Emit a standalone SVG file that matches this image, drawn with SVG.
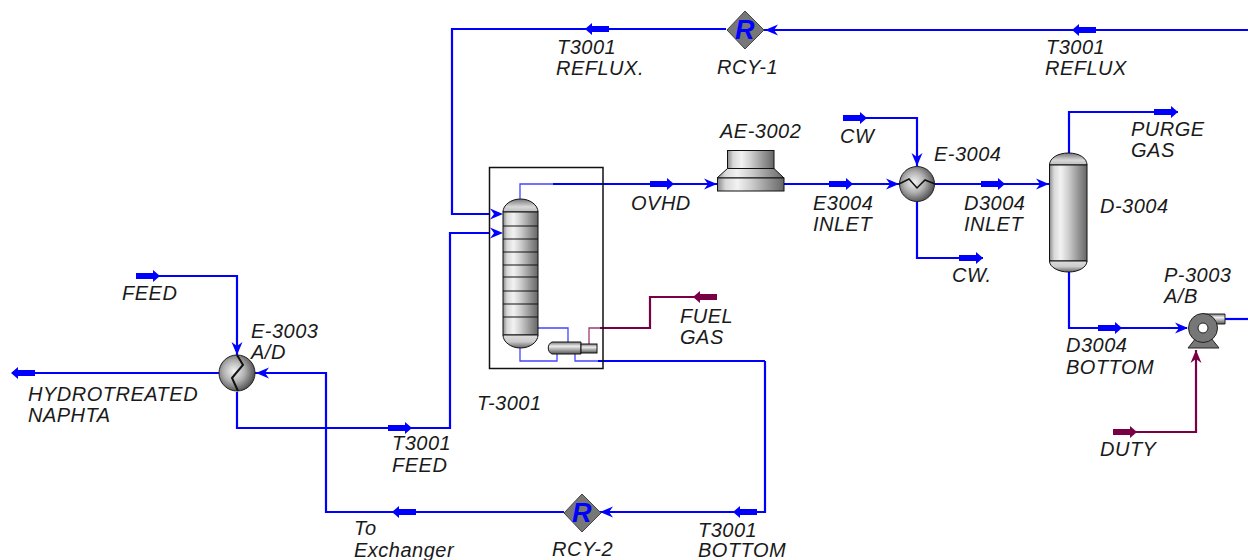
<svg xmlns="http://www.w3.org/2000/svg" xmlns:xlink="http://www.w3.org/1999/xlink" width="1248" height="560" viewBox="0 0 1248 560">
<style>
.s{fill:none;stroke:#0000ff;stroke-width:2.200}
.t{fill:none;stroke:#4444ff;stroke-width:1.300}
.e{fill:none;stroke:#7a0045;stroke-width:2.200}
.et{fill:none;stroke:#a03a70;stroke-width:1.300}
.o{stroke:#111;stroke-width:1}
.l{stroke:#111;stroke-width:1;fill:none}
text{font-family:"Liberation Sans",Arial,sans-serif;font-style:italic;font-size:20px;letter-spacing:.5px;fill:#1a1a1a}
.R{font-size:27px;font-weight:bold;fill:#0000ff;letter-spacing:0}
</style>
<defs>
<linearGradient id="metal" x1="0" x2="1" y1="0" y2="0">
<stop offset="0" stop-color="#8a8a8a"/><stop offset=".12" stop-color="#d8d8d8"/><stop offset=".3" stop-color="#f2f2f2"/><stop offset=".5" stop-color="#cfcfcf"/><stop offset=".75" stop-color="#999"/><stop offset="1" stop-color="#666"/>
</linearGradient>
<linearGradient id="dome" x1="0" x2="0" y1="0" y2="1">
<stop offset="0" stop-color="#777"/><stop offset=".6" stop-color="#d8d8d8"/><stop offset="1" stop-color="#bbb"/>
</linearGradient>
<linearGradient id="domeB" x1="0" x2="0" y1="0" y2="1">
<stop offset="0" stop-color="#ddd"/><stop offset=".5" stop-color="#ccc"/><stop offset="1" stop-color="#666"/>
</linearGradient>
<linearGradient id="horiz" x1="0" x2="0" y1="0" y2="1">
<stop offset="0" stop-color="#777"/><stop offset=".35" stop-color="#eee"/><stop offset="1" stop-color="#555"/>
</linearGradient>
<radialGradient id="ball" cx=".42" cy=".45" r=".6">
<stop offset="0" stop-color="#f4f4f4"/><stop offset=".5" stop-color="#b0b0b0"/><stop offset="1" stop-color="#4a4a4a"/>
</radialGradient>
<g id="flagB"><path d="M-24,-3H-7V-6L0,0L-7,6V3H-24Z" fill="#0000ff"/></g>
<g id="flagE"><path d="M-24,-3H-7V-6L0,0L-7,6V3H-24Z" fill="#7a0045"/></g>
<path id="head" d="M-13,-5.500L0,0L-13,5.500L-9,0Z" fill="#0000ff"/>
<path id="headE" d="M-13,-5.500L0,0L-13,5.500L-9,0Z" fill="#7a0045"/>
</defs>

<g id="connectors">
<path class="s" d="M1248,30H764"/>
<path class="s" d="M726,29H452V214H490"/>
<path class="s" d="M237,392V428H450V233H490"/>
<path class="s" d="M136,276H237V355"/>
<path class="s" d="M219,373H12"/>
<path class="s" d="M765,361V512H600"/>
<path class="s" d="M564,512H326V373H255"/>
<path class="s" d="M553,184H717"/>
<path class="s" d="M784,184H899"/>
<path class="s" d="M843,118H917V166"/>
<path class="s" d="M935,184H1049"/>
<path class="s" d="M917,202V258H983"/>
<path class="s" d="M1069,153V112H1178"/>
<path class="s" d="M1069,272V328H1187"/>
<path class="s" d="M1225,319H1248"/>
<path class="s" d="M598,361H765"/>
<path class="t" d="M520,199V184H553"/>
<path class="t" d="M538,328H568V342"/>
<path class="t" d="M520,347V361H557V354"/>
<path class="t" d="M575,354V361H598"/>
<path class="et" d="M589,344V328H600"/>
<path class="e" d="M600,328H650V297H717"/>
<path class="e" d="M1113,432H1196V350"/>
<use xlink:href="#flagB" href="#flagB" transform="translate(585,29) rotate(180)"/>
<use xlink:href="#flagB" href="#flagB" transform="translate(1072,30) rotate(180)"/>
<use xlink:href="#flagB" href="#flagB" transform="translate(160,276)"/>
<use xlink:href="#flagB" href="#flagB" transform="translate(11,373) rotate(180)"/>
<use xlink:href="#flagB" href="#flagB" transform="translate(412,428)"/>
<use xlink:href="#flagB" href="#flagB" transform="translate(392,512) rotate(180)"/>
<use xlink:href="#flagB" href="#flagB" transform="translate(733,512) rotate(180)"/>
<use xlink:href="#flagB" href="#flagB" transform="translate(674,184)"/>
<use xlink:href="#flagB" href="#flagB" transform="translate(853,184)"/>
<use xlink:href="#flagB" href="#flagB" transform="translate(867,118)"/>
<use xlink:href="#flagB" href="#flagB" transform="translate(1005,184)"/>
<use xlink:href="#flagB" href="#flagB" transform="translate(983,258)"/>
<use xlink:href="#flagB" href="#flagB" transform="translate(1178,112)"/>
<use xlink:href="#flagB" href="#flagB" transform="translate(1122,328)"/>
<use xlink:href="#flagE" href="#flagE" transform="translate(693,297) rotate(180)"/>
<use xlink:href="#flagE" href="#flagE" transform="translate(1137,432)"/>
<use xlink:href="#head" href="#head" transform="translate(503,214)"/>
<use xlink:href="#head" href="#head" transform="translate(503,233)"/>
<use xlink:href="#head" href="#head" transform="translate(717,184)"/>
<use xlink:href="#head" href="#head" transform="translate(899,184)"/>
<use xlink:href="#head" href="#head" transform="translate(1049,184)"/>
<use xlink:href="#head" href="#head" transform="translate(1188,328)"/>
<use xlink:href="#head" href="#head" transform="translate(917,166) rotate(90)"/>
<use xlink:href="#head" href="#head" transform="translate(237,355) rotate(90)"/>
<use xlink:href="#head" href="#head" transform="translate(256,373) rotate(180)"/>
<use xlink:href="#head" href="#head" transform="translate(765,30) rotate(180)"/>
<use xlink:href="#head" href="#head" transform="translate(600,512) rotate(180)"/>
<use xlink:href="#headE" href="#headE" transform="translate(1196,350) rotate(-90)"/>
</g>

<g id="T-3001">
<rect x="489.500" y="167.500" width="113.500" height="201" fill="none" stroke="#111" stroke-width="1.500"/>
<path d="M503,212C503,205 511,199 520.500,199C530,199 538,205 538,212Z" fill="url(#dome)" class="o"/>
<rect x="503" y="212" width="35" height="123" fill="url(#metal)" class="o"/>
<path d="M503,335C503,342 511,348 520.500,348C530,348 538,342 538,335Z" fill="url(#domeB)" class="o"/>
<path class="l" d="M503,226H538M503,239H538M503,252H538M503,265H538M503,277H538M503,291H538M503,304H538M503,317H538"/>
<path d="M552,342H581V354H552C547,352 547,344 552,342Z" fill="url(#horiz)" class="o"/>
<rect x="581" y="344" width="16" height="9" fill="url(#horiz)" class="o"/>
<text x="477" y="410">T-3001</text>
</g>

<g id="AE-3002">
<rect x="727.500" y="150.500" width="46.500" height="18" fill="url(#metal)" class="o"/>
<path d="M727.500,168.500H774L784,178H717Z" fill="url(#metal)" class="o"/>
<rect x="717.500" y="178" width="66.500" height="13" fill="url(#metal)" class="o"/>
<text x="720" y="138">AE-3002</text>
</g>

<g id="E-3004">
<circle cx="917" cy="184" r="17.500" fill="url(#ball)" stroke="#222"/>
<path d="M899,184L909,179L917,188L925,180L935,184" fill="none" stroke="#111" stroke-width="1.500"/>
<text x="934" y="161">E-3004</text>
</g>

<g id="E-3003">
<circle cx="237" cy="373" r="18" fill="url(#ball)" stroke="#222"/>
<path d="M237,355L243,365L232,378L238,391" fill="none" stroke="#111" stroke-width="2"/>
<text x="251" y="338">E-3003</text>
<text x="251" y="359">A/D</text>
</g>

<g id="D-3004">
<path d="M1049.500,165C1049.500,158 1058,153 1068.500,153C1079,153 1087,158 1087,165Z" fill="url(#dome)" class="o"/>
<rect x="1049.500" y="165" width="37.500" height="96" fill="url(#metal)" class="o"/>
<path d="M1049.500,261C1049.500,267 1058,272 1068.500,272C1079,272 1087,267 1087,261Z" fill="url(#domeB)" class="o"/>
<text x="1100" y="213">D-3004</text>
</g>

<g id="P-3003">
<path d="M1188,348L1196,338H1211L1219,348Z" fill="#777" stroke="#222"/>
<path d="M1203,314H1225V324H1214Z" fill="url(#horiz)" stroke="#222"/>
<circle cx="1203" cy="328" r="14.500" fill="#777" stroke="#222"/>
<circle cx="1203" cy="328" r="5" fill="#fff" stroke="#222"/>
<text x="1164" y="282">P-3003</text>
<text x="1164" y="303">A/B</text>
</g>

<g id="RCY-1">
<path d="M745,11L764,30L745,49L727,30Z" fill="#777" stroke="#444"/>
<text class="R" x="735" y="39">R</text>
<text x="717" y="74">RCY-1</text>
</g>

<g id="RCY-2">
<path d="M582,494L601,513L582,532L564,513Z" fill="#777" stroke="#444"/>
<text class="R" x="572" y="522">R</text>
<text x="552" y="556">RCY-2</text>
</g>

<g id="labels">
<text x="557" y="54">T3001</text><text x="556" y="75">REFLUX.</text>
<text x="1046" y="54">T3001</text><text x="1045" y="75">REFLUX</text>
<text x="631" y="210">OVHD</text>
<text x="813" y="210">E3004</text><text x="813" y="231">INLET</text>
<text x="840" y="143">CW</text>
<text x="964" y="210">D3004</text><text x="964" y="231">INLET</text>
<text x="952" y="282">CW.</text>
<text x="1131" y="136">PURGE</text><text x="1131" y="157">GAS</text>
<text x="1066" y="352">D3004</text><text x="1066" y="374">BOTTOM</text>
<text x="1100" y="456">DUTY</text>
<text x="680" y="323">FUEL</text><text x="680" y="344">GAS</text>
<text x="122" y="300">FEED</text>
<text x="28" y="401">HYDROTREATED</text><text x="28" y="422">NAPHTA</text>
<text x="392" y="450">T3001</text><text x="392" y="472">FEED</text>
<text x="354" y="535">To</text><text x="354" y="557">Exchanger</text>
<text x="698" y="537">T3001</text><text x="698" y="557">BOTTOM</text>
</g>
</svg>
